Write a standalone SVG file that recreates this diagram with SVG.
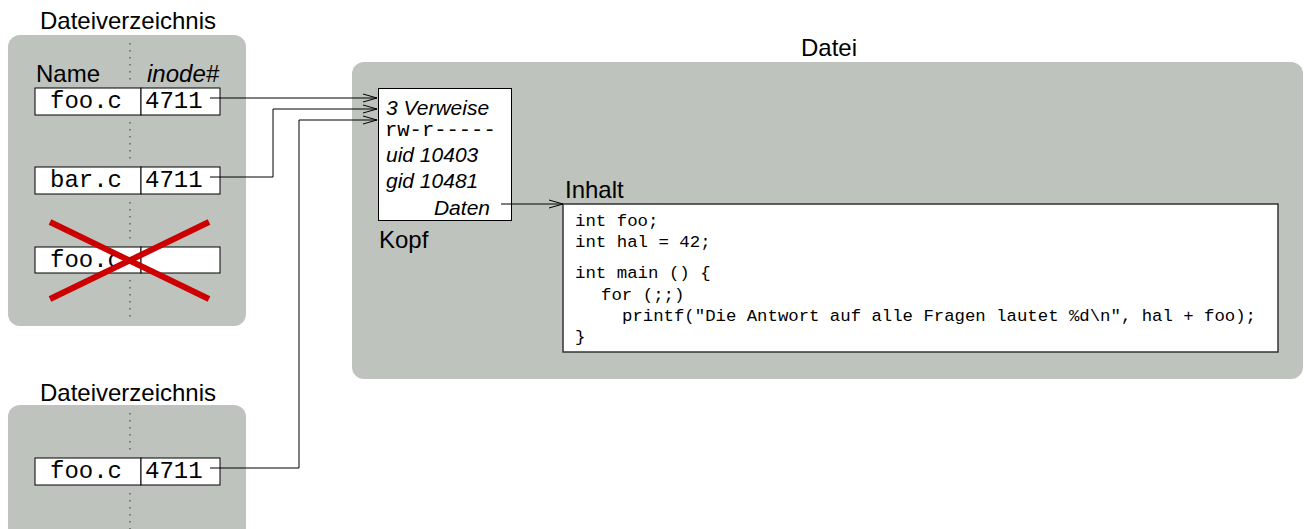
<svg xmlns="http://www.w3.org/2000/svg" width="1304" height="529" viewBox="0 0 1304 529">
<defs>
<style>
.panel{fill:#bfc3bd;stroke:none}
.cell{fill:#ffffff;stroke:#000;stroke-width:1}
.lbl{font-family:"Liberation Sans",Arial,sans-serif;font-size:24px;fill:#000}
.it{font-family:"Liberation Sans",Arial,sans-serif;font-style:italic;font-size:21px;fill:#000}
.mono{font-family:"Liberation Mono","Courier New",monospace;font-size:24px;fill:#000}
.mono21{font-family:"Liberation Mono","Courier New",monospace;font-size:20.5px;fill:#000}
.code{font-family:"Liberation Mono","Courier New",monospace;font-size:17.4px;fill:#000}
.dots{stroke:#555;stroke-width:1.3;stroke-dasharray:1.5 5.5;fill:none}
.conn{stroke:#000;stroke-width:1;fill:none}
.cross{stroke:#cc0000;stroke-width:6;stroke-linecap:butt}
</style>
<marker id="arr" markerWidth="16" markerHeight="12" refX="14" refY="5" orient="auto" markerUnits="userSpaceOnUse">
<path d="M0,1 L14,5 L0,9" fill="none" stroke="#000" stroke-width="1"/>
</marker>
</defs>
<rect width="1304" height="529" fill="#fff"/>

<g id="verzeichnis1">
<text class="lbl" x="128" y="29" text-anchor="middle">Dateiverzeichnis</text>
<rect class="panel" x="8" y="35" width="238" height="291" rx="12"/>
<line class="dots" x1="130" y1="43" x2="130" y2="82"/>
<line class="dots" x1="130" y1="122" x2="130" y2="160"/>
<line class="dots" x1="130" y1="202" x2="130" y2="240"/>
<line class="dots" x1="130" y1="280" x2="130" y2="318"/>
<text class="lbl" x="36" y="82">Name</text>
<text class="lbl" x="147" y="82" style="font-style:italic">inode#</text>
<g id="row-foo1">
<rect class="cell" x="35" y="88" width="106" height="27"/>
<rect class="cell" x="141" y="88" width="79" height="27"/>
<text class="mono" x="86" y="108" text-anchor="middle">foo.c</text>
<text class="mono" x="145" y="108">4711</text>
</g>
<g id="row-bar">
<rect class="cell" x="35" y="167" width="106" height="27"/>
<rect class="cell" x="141" y="167" width="79" height="27"/>
<text class="mono" x="86" y="187" text-anchor="middle">bar.c</text>
<text class="mono" x="145" y="187">4711</text>
</g>
<g id="row-foo-deleted">
<rect class="cell" x="35" y="247" width="106" height="26"/>
<rect class="cell" x="141" y="247" width="79" height="26"/>
<text class="mono" x="86" y="267" text-anchor="middle">foo.c</text>
<line class="cross" x1="50" y1="222" x2="209" y2="299"/>
<line class="cross" x1="50" y1="299" x2="209" y2="222"/>
</g>
</g>

<g id="verzeichnis2">
<text class="lbl" x="128" y="401" text-anchor="middle">Dateiverzeichnis</text>
<rect class="panel" x="8" y="405" width="238" height="140" rx="12"/>
<line class="dots" x1="130" y1="413" x2="130" y2="453"/>
<line class="dots" x1="130" y1="493" x2="130" y2="529"/>
<g id="row-foo2">
<rect class="cell" x="35" y="458" width="106" height="27"/>
<rect class="cell" x="141" y="458" width="79" height="27"/>
<text class="mono" x="86" y="478" text-anchor="middle">foo.c</text>
<text class="mono" x="145" y="478">4711</text>
</g>
</g>

<g id="datei">
<text class="lbl" x="829" y="56" text-anchor="middle">Datei</text>
<rect class="panel" x="352" y="62" width="951" height="317" rx="12"/>
<g id="kopf">
<rect class="cell" x="378.5" y="88.5" width="133" height="132"/>
<text class="it" x="386" y="115">3 Verweise</text>
<text class="mono21" x="385" y="136">rw-r-----</text>
<text class="it" x="386" y="162">uid 10403</text>
<text class="it" x="386" y="188">gid 10481</text>
<text class="it" x="490" y="215" text-anchor="end">Daten</text>
<text class="lbl" x="379" y="248">Kopf</text>
</g>
<g id="inhalt">
<text class="lbl" x="565" y="198">Inhalt</text>
<rect x="563" y="204" width="715" height="148" fill="#fff" stroke="#333" stroke-width="1.5"/>
<text class="code" x="575" y="226">int foo;</text>
<text class="code" x="575" y="247">int hal = 42;</text>
<text class="code" x="575" y="278">int main () {</text>
<text class="code" x="601" y="300">for (;;)</text>
<text class="code" x="622" y="321" textLength="634" lengthAdjust="spacingAndGlyphs">printf("Die Antwort auf alle Fragen lautet %d\n", hal + foo);</text>
<text class="code" x="575" y="342">}</text>
</g>
</g>

<g id="connectors">
<polyline class="conn" points="210,98 377,98" marker-end="url(#arr)"/>
<polyline class="conn" points="210,177 273,177 273,109 377,109" marker-end="url(#arr)"/>
<polyline class="conn" points="210,468 299,468 299,120 377,120" marker-end="url(#arr)"/>
<polyline class="conn" points="501,204 563,204" marker-end="url(#arr)"/>
</g>
</svg>
